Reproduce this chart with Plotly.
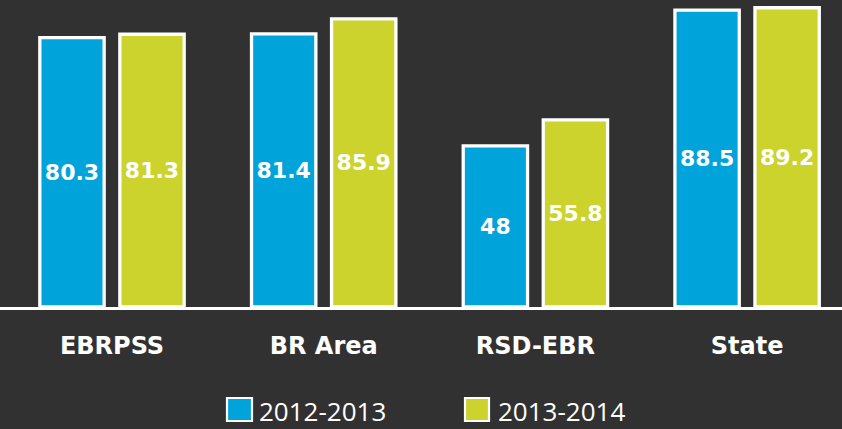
import plotly.graph_objects as go

categories = ["EBRPSS", "BR Area", "RSD-EBR", "State"]
series_names = ["2012-2013", "2013-2014"]
values_2012 = [80.3, 81.4, 48, 88.5]
values_2013 = [81.3, 85.9, 55.8, 89.2]
colors = ["#00a4da", "#cdd32d"]

W, H = 842, 429
plot_h = 307
BG = "#313131"

fig = go.Figure()
for name, vals, col in zip(series_names, [values_2012, values_2013], colors):
    fig.add_trace(go.Bar(
        x=categories, y=vals, name=name,
        marker=dict(color=col, line=dict(color="white", width=3.3)),
        text=[f"{v:g}" for v in vals],
        textposition="inside", insidetextanchor="middle",
        textfont=dict(family="DejaVu Sans", size=22, color="white", weight="bold"),
        textangle=0, showlegend=False,
    ))

# legend drawn as shapes + text
legend_boxes = [(226, 253), (464, 490)]
legend_text_x = [257, 496]
def py(v):
    return (plot_h - v) / plot_h
for (x0, x1), tx, name, col in zip(legend_boxes, legend_text_x, series_names, colors):
    fig.add_shape(type="rect", xref="paper", yref="paper",
                  x0=(x0 + 1) / W, x1=(x1 - 1) / W, y0=py(421), y1=py(398),
                  fillcolor=col, line=dict(color="white", width=2.2))
    fig.add_annotation(xref="paper", yref="paper", x=tx / W, y=py(411),
                       xanchor="left", yanchor="middle", text=name, showarrow=False,
                       font=dict(family="Open Sans", size=26, color="white"))

band = 211.7
c0 = 112
fig.update_layout(
    width=W, height=H,
    margin=dict(l=0, r=0, t=0, b=H - plot_h),
    paper_bgcolor=BG, plot_bgcolor="rgba(0,0,0,0)",
    barmode="group", bargap=0.244, bargroupgap=0.196,
    xaxis=dict(range=[-c0 / band, (W - c0) / band], showgrid=False, zeroline=False,
               showline=True, linecolor="white", linewidth=3, ticks="",
               tickfont=dict(family="DejaVu Sans", size=24, color="white", weight="bold"),
               ticklabelstandoff=15, fixedrange=True),
    yaxis=dict(range=[0, plot_h / 3.355], visible=False, fixedrange=True),
    uniformtext=dict(minsize=10, mode="show"),
)

fig.write_html(
    "out.html",
    config={"displayModeBar": False},
    post_script="document.body.style.margin='0';document.body.style.padding='0';"
                "document.body.style.overflow='hidden';document.body.style.background='" + BG + "';",
)
